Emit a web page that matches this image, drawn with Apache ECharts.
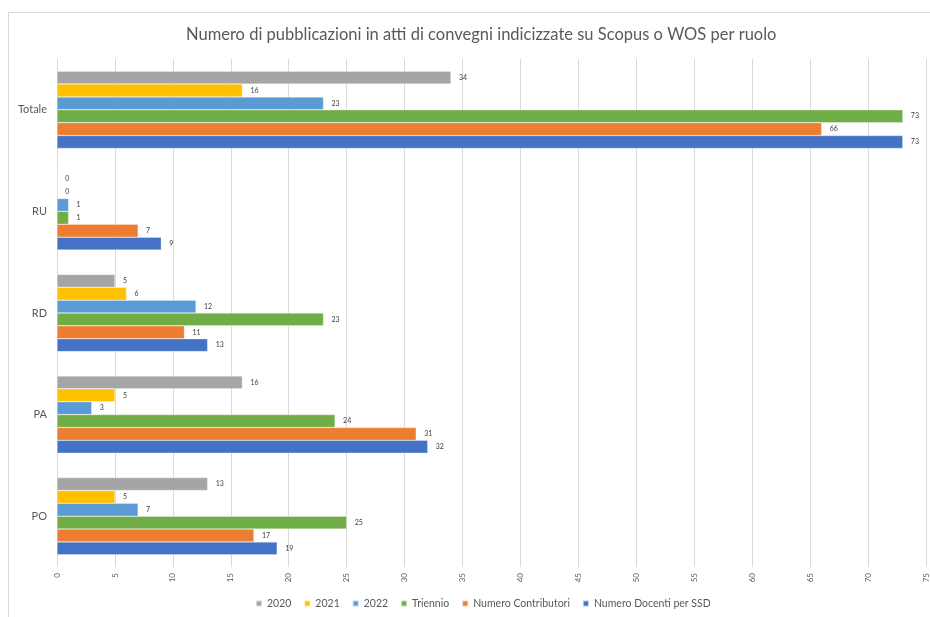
<!DOCTYPE html>
<html>
<head>
<meta charset="utf-8">
<script src="https://cdn.jsdelivr.net/npm/echarts@6/dist/echarts.min.js"></script>
<style>
html,body{margin:0;padding:0;background:#fff;}
#chart{width:930px;height:617px;}
</style>
</head>
<body>
<div id="chart"></div>
<script>
const categories = ['Totale', 'RU', 'RD', 'PA', 'PO'];
const seriesNames = ['2020', '2021', '2022', 'Triennio', 'Numero Contributori', 'Numero Docenti per SSD'];
const v2020 = [34, 0, 5, 16, 13];
const v2021 = [16, 0, 6, 5, 5];
const v2022 = [23, 1, 12, 3, 7];
const vTriennio = [73, 1, 23, 24, 25];
const vContributori = [66, 7, 11, 31, 17];
const vDocenti = [73, 9, 13, 32, 19];
const xTicks = [0, 5, 10, 15, 20, 25, 30, 35, 40, 45, 50, 55, 60, 65, 70, 75];

const seriesValues = [v2020, v2021, v2022, vTriennio, vContributori, vDocenti];
const colors = ['#A5A5A5', '#FFC000', '#5B9BD5', '#70AD47', '#ED7D31', '#4472C4'];
const font = 'Lato, "Open Sans", sans-serif';

const chart = echarts.init(document.getElementById('chart'), null, {renderer: 'canvas'});
chart.setOption({
  animation: false,
  color: colors,
  title: {
    text: 'Numero di pubblicazioni in atti di convegni indicizzate su Scopus o WOS per ruolo',
    left: 181,
    top: 21,
    textStyle: {fontFamily: font, fontSize: 16.5, fontWeight: 'normal', color: '#595959'}
  },
  graphic: [{
    type: 'rect',
    shape: {x: 8.5, y: 12.5, width: 940, height: 620},
    style: {fill: 'none', stroke: '#d9d9d9', lineWidth: 1},
    silent: true,
    z: -1
  }],
  legend: {
    data: seriesNames,
    bottom: 3,
    left: 250,
    itemWidth: 6,
    itemHeight: 6,
    itemGap: 12,
    icon: 'rect',
    textStyle: {fontFamily: font, fontSize: 10.5, color: '#595959'}
  },
  grid: {left: 57, right: 3, top: 59, bottom: 50, containLabel: false},
  xAxis: {
    type: 'value',
    min: xTicks[0],
    max: xTicks[xTicks.length - 1],
    interval: 5,
    axisLine: {show: false},
    axisTick: {show: false},
    splitLine: {lineStyle: {color: '#d9d9d9', width: 1}},
    axisLabel: {rotate: 90, fontFamily: font, fontSize: 8, color: '#595959', margin: 6}
  },
  yAxis: {
    type: 'category',
    data: categories,
    inverse: true,
    axisLine: {show: false},
    axisTick: {show: false},
    axisLabel: {fontFamily: font, fontSize: 11, color: '#595959', margin: 10}
  },
  series: seriesNames.map((name, i) => ({
    name: name,
    type: 'bar',
    data: seriesValues[i],
    barGap: '0%',
    barCategoryGap: '24%',
    itemStyle: {color: colors[i], borderColor: 'rgba(255,255,255,0.6)', borderWidth: 0.5},
    label: {show: true, position: 'right', distance: 8, fontFamily: font, fontSize: 7, color: '#404040'}
  }))
});
</script>
</body>
</html>
